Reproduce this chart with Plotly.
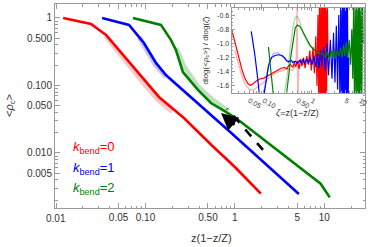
import math
import plotly.graph_objects as go

# ---------------- main panel data: <rho_c> vs z(1-z/Z) ----------------
red_x = [0.012, 0.0246, 0.0362, 0.0506, 0.0724, 0.101, 0.1415, 0.269, 0.55, 1.0, 1.95]
red_y = [1.0, 0.815, 0.56, 0.336, 0.188, 0.113, 0.0676, 0.033, 0.013, 0.0062, 0.0025]

blue_x = [0.0327, 0.0655, 0.096, 0.131, 0.169, 0.249, 0.348, 0.836, 5.19]
blue_y = [1.0, 0.79, 0.426, 0.216, 0.143, 0.091, 0.061, 0.0219, 0.00247]

green_x = [0.0724, 0.149, 0.193, 0.219, 0.262, 0.386, 0.54, 0.836, 1.17, 5.06, 9.1, 11.5]
green_y = [1.0, 0.79, 0.47, 0.336, 0.158, 0.086, 0.055, 0.039, 0.0288, 0.0065, 0.0035, 0.0022]

# faint companion curves (main panel)
red_f_x = [0.036, 0.05, 0.072, 0.1, 0.14, 0.2]
red_f_y = [0.54, 0.31, 0.17, 0.1, 0.06, 0.041]
blue_f_x = [0.085, 0.1, 0.13, 0.17]
blue_f_y = [0.52, 0.37, 0.2, 0.135]
green_f_x = [0.22, 0.27, 0.386, 0.54, 0.836]
green_f_y = [0.36, 0.19, 0.096, 0.064, 0.042]

# ---------------- inset data: dlog<rho_c>/dlog(zeta) ----------------
ri_x = [0.0215, 0.025, 0.03, 0.035, 0.04, 0.047, 0.053, 0.06, 0.07, 0.085, 0.1, 0.12, 0.15, 0.19,
        0.23, 0.27, 0.3, 0.33, 0.36, 0.4, 0.43, 0.46, 0.5, 0.54, 0.58, 0.62, 0.67, 0.72, 0.78,
        0.84, 0.9, 0.97, 1.05, 1.12, 1.2, 1.27, 1.33, 1.38, 1.43, 1.48, 1.53, 1.58, 1.63, 1.68,
        1.73, 1.78, 1.84, 1.9, 1.95, 2.0, 2.08, 2.15]
ri_y = [-0.80, -0.98, -1.18, -1.36, -1.48, -1.57, -1.59, -1.57, -1.53, -1.50, -1.49, -1.46, -1.42,
        -1.38, -1.35, -1.34, -1.36, -1.31, -1.30, -1.34, -1.27, -1.33, -1.25, -1.36, -1.22, -1.32,
        -1.20, -1.35, -1.18, -1.30, -1.10, -1.38, -1.05, -1.42, -0.90, -1.60, -0.60, -1.80, -0.40,
        -1.90, -0.40, -1.90, -0.40, -1.90, -0.40, -1.90, -0.40, -1.90, -0.40, -1.90, -0.40, -1.20]

bi_x = [0.055, 0.065, 0.075, 0.085, 0.095, 0.11, 0.125, 0.145, 0.17, 0.2, 0.24, 0.27, 0.3, 0.33,
        0.37, 0.4, 0.45, 0.5, 0.55, 0.6, 0.65, 0.7, 0.77, 0.85, 0.92, 1.0, 1.1, 1.2, 1.3, 1.4, 1.5,
        1.6, 1.75, 1.9, 2.05, 2.2, 2.4, 2.6, 2.8, 3.0, 3.2, 3.4, 3.6, 3.8, 3.95, 4.1, 4.25, 4.4,
        4.55, 4.7, 4.85, 5.0, 5.15, 5.3, 5.45, 5.6, 5.8]
bi_y = [-0.83, -1.15, -1.5, -1.85, -1.85, -1.55, -1.32, -1.2, -1.17, -1.16, -1.17, -1.2, -1.25,
        -1.26, -1.24, -1.27, -1.25, -1.28, -1.24, -1.27, -1.22, -1.29, -1.22, -1.28, -1.2, -1.3,
        -1.18, -1.33, -1.15, -1.35, -1.1, -1.32, -1.05, -1.38, -1.0, -1.45, -0.95, -1.5, -0.85,
        -1.55, -0.75, -1.65, -0.6, -1.8, -0.4, -1.9, -0.4, -1.9, -0.4, -1.9, -0.4, -1.9, -0.4,
        -1.9, -0.4, -1.9, -1.2]

gi_x = [0.125, 0.14, 0.155, 0.165, 0.28, 0.3, 0.33, 0.37, 0.41, 0.45, 0.5, 0.56, 0.62, 0.7, 0.8,
        0.9, 1.0, 1.15, 1.3, 1.5, 1.7, 1.9, 2.1, 2.3, 2.5, 2.7, 2.9, 3.1, 3.3, 3.6, 3.9, 4.2, 4.5,
        4.8, 5.1, 5.5, 5.9, 6.3, 6.7, 7.0, 7.3, 7.6, 7.9, 8.2, 8.5, 8.8, 9.1, 9.4, 9.7, 10.0,
        10.4, 10.8, 11.2, 11.5]
gi_y = [-1.05, -1.35, -1.65, -1.85, -1.85, -1.7, -1.45, -1.15, -0.92, -0.78, -0.74, -0.76, -0.81,
        -0.88, -0.96, -1.02, -1.06, -1.1, -1.12, -1.15, -1.14, -1.2, -1.12, -1.22, -1.1, -1.2,
        -1.08, -1.22, -1.1, -1.18, -1.06, -1.2, -1.02, -1.18, -0.98, -1.2, -0.95, -1.3, -0.8,
        -1.5, -0.5, -1.8, -0.4, -1.9, -0.4, -1.9, -0.4, -1.9, -0.4, -1.9, -0.4, -1.9, -0.4, -1.0]

# faint companion curves (inset)
pi_x = [0.025, 0.03, 0.035, 0.04, 0.05, 0.06, 0.08, 0.1, 0.15, 0.2, 0.3, 0.4, 0.47, 0.49, 0.51,
        0.53, 0.6, 0.8, 1.0]
pi_y = [-1.1, -1.3, -1.45, -1.56, -1.65, -1.66, -1.6, -1.55, -1.45, -1.4, -1.36, -1.38, -1.3,
        -0.5, -1.9, -1.35, -1.3, -1.28, -1.3]
lbi_x = [0.1, 0.115, 0.13, 0.16, 0.2, 0.25, 0.3, 0.4, 0.5]
lbi_y = [-1.7, -1.45, -1.25, -1.14, -1.13, -1.2, -1.24, -1.25, -1.27]
lgi_x = [0.26, 0.3, 0.35, 0.4, 0.45, 0.5, 0.55, 0.65, 0.8, 1.0, 1.3]
lgi_y = [-1.75, -1.5, -1.1, -0.78, -0.63, -0.62, -0.68, -0.84, -0.98, -1.07, -1.12]

# ticks
main_xticks = [0.01, 0.05, 0.1, 0.5, 1, 5, 10]
main_xticklabels = ["0.01", "0.05", "0.10", "0.50", "1", "5", "10"]
main_yticks = [0.005, 0.01, 0.05, 0.1, 0.5, 1]
main_yticklabels = ["0.005", "0.010", "0.050", "0.100", "0.500", "1"]
inset_xticks = [0.05, 0.1, 0.5, 1, 5, 10]
inset_xticklabels = ["0.05", "0.10", "0.50", "1", "5", "10"]
inset_yticks = [-0.6, -0.8, -1.0, -1.2, -1.4, -1.6]
inset_yticklabels = ["-0.6", "-0.8", "-1.0", "-1.2", "-1.4", "-1.6"]

legend_labels = ["<i>k</i><sub>bend</sub>=0", "<i>k</i><sub>bend</sub>=1", "<i>k</i><sub>bend</sub>=2"]

ARROW_TAIL = (2.06, 0.0111)
ARROW_NECK = (0.82, 0.0455)
ARROW_HEAD = (0.70, 0.039)

RED, BLUE, GREEN = "#ff0000", "#0000ff", "#008000"
RED_F, BLUE_F, GREEN_F = "rgba(255,0,0,0.22)", "rgba(0,0,255,0.22)", "rgba(0,128,0,0.25)"

FONT = "Liberation Sans, Arial, sans-serif"
TXT = "#333333"
FRAME = "#9a9a9a"


def minor_log(lo_exp, hi_exp):
    vals = []
    for e in range(lo_exp, hi_exp + 1):
        for m in (2, 3, 4, 6, 7, 8, 9):
            vals.append(m * 10 ** e)
    return vals


fig = go.Figure()

for xs, ys, c in [(red_f_x, red_f_y, RED_F), (blue_f_x, blue_f_y, BLUE_F), (green_f_x, green_f_y, GREEN_F)]:
    fig.add_trace(go.Scatter(x=xs, y=ys, mode="lines", line=dict(color=c, width=5),
                             xaxis="x", yaxis="y", showlegend=False, hoverinfo="skip"))
for xs, ys, c in [(red_x, red_y, RED), (blue_x, blue_y, BLUE), (green_x, green_y, GREEN)]:
    fig.add_trace(go.Scatter(x=xs, y=ys, mode="lines", line=dict(color=c, width=2.6),
                             xaxis="x", yaxis="y", showlegend=False))

fig.add_trace(go.Scatter(x=[ARROW_TAIL[0], ARROW_NECK[0]], y=[ARROW_TAIL[1], ARROW_NECK[1]],
                         mode="lines", line=dict(color="black", width=2.6, dash="dash"),
                         xaxis="x", yaxis="y", showlegend=False, hoverinfo="skip"))

for xs, ys, c in [(pi_x, pi_y, "rgba(255,0,0,0.3)"), (lbi_x, lbi_y, "rgba(0,0,255,0.3)"),
                  (lgi_x, lgi_y, "rgba(0,128,0,0.3)")]:
    fig.add_trace(go.Scatter(x=xs, y=ys, mode="lines", line=dict(color=c, width=1.4),
                             xaxis="x2", yaxis="y2", showlegend=False, hoverinfo="skip"))
for xs, ys, c in [(ri_x, ri_y, RED), (bi_x, bi_y, BLUE), (gi_x, gi_y, GREEN)]:
    fig.add_trace(go.Scatter(x=xs, y=ys, mode="lines", line=dict(color=c, width=1.2),
                             xaxis="x2", yaxis="y2", showlegend=False))

common = dict(showline=True, linecolor=FRAME, linewidth=1, mirror="allticks", ticks="inside",
              tickcolor=FRAME, showgrid=False, zeroline=False, automargin=False,
              ticklabeloverflow="allow",
              tickfont=dict(family=FONT, size=10, color=TXT))
small = dict(common, tickfont=dict(family=FONT, size=7, color=TXT))

# the first x label is drawn as an annotation pinned to the plot's left edge
axis_xticklabels = [""] + main_xticklabels[1:]

fig.update_layout(
    width=374, height=247,
    margin=dict(l=55, r=9, t=4, b=39, autoexpand=False),
    paper_bgcolor="white", plot_bgcolor="white",
    xaxis=dict(type="log", range=[-2.012, 1.455], tickvals=main_xticks, ticktext=axis_xticklabels,
               ticklen=5, tickmode="array",
               minor=dict(tickvals=minor_log(-2, 1), ticks="inside", ticklen=2.5, tickcolor=FRAME),
               **common),
    yaxis=dict(type="log", range=[-2.815, 0.207], tickvals=main_yticks, ticktext=main_yticklabels,
               ticklen=5, tickmode="array",
               minor=dict(tickvals=minor_log(-3, 0), ticks="inside", ticklen=2.5, tickcolor=FRAME),
               **common),
    xaxis2=dict(type="log", range=[math.log10(0.0215), math.log10(12)], domain=[0.5696, 0.9968],
                anchor="y2", tickvals=inset_xticks, ticktext=inset_xticklabels, ticklen=3,
                tickmode="array",
                minor=dict(tickvals=minor_log(-2, 1), ticks="inside", ticklen=1.8, tickcolor=FRAME),
                **small),
    yaxis2=dict(range=[-1.7, -0.5], domain=[0.5637, 0.9804], anchor="x2",
                tickvals=inset_yticks, ticktext=inset_yticklabels, ticklen=3, tickmode="array",
                minor=dict(dtick=0.05, ticks="inside", ticklen=1.8, tickcolor=FRAME),
                **small),
)

ann = []
ann.append(dict(xref="paper", yref="paper", x=0.003, y=0, yshift=-3,
                text=main_xticklabels[0], showarrow=False, xanchor="center", yanchor="top",
                font=dict(family=FONT, size=10, color=TXT)))
ann.append(dict(xref="x", yref="y", x=math.log10(ARROW_HEAD[0]), y=math.log10(ARROW_HEAD[1]),
                ax=15, ay=13, axref="pixel", ayref="pixel", showarrow=True, text="",
                arrowhead=2, arrowsize=1.4, arrowwidth=2.4, arrowcolor="black", standoff=0))
ann.append(dict(xref="paper", yref="paper", x=-0.145, y=0.5, text="&lt;<i>ρ</i><sub>c</sub>&gt;",
                textangle=-90, showarrow=False, font=dict(family=FONT, size=11, color=TXT),
                xanchor="center", yanchor="middle"))
ann.append(dict(xref="paper", yref="paper", x=0.506, y=-0.147, text="z(1−z/Z)",
                showarrow=False, font=dict(family=FONT, size=11, color=TXT),
                xanchor="center", yanchor="middle"))
ann.append(dict(xref="paper", yref="paper", x=0.484, y=0.772,
                text="dlog(&lt;<i>ρ</i><sub>c</sub>&gt;) / dlog(<i>ζ</i>)",
                textangle=-90, showarrow=False, font=dict(family=FONT, size=8, color=TXT),
                xanchor="center", yanchor="middle"))
ann.append(dict(xref="paper", yref="paper", x=0.781, y=0.466, text="<i>ζ</i>=z(1−z/Z)",
                showarrow=False, font=dict(family=FONT, size=9, color=TXT),
                xanchor="center", yanchor="middle"))
for lbl, c, yp in zip(legend_labels, [RED, BLUE, GREEN], [0.299, 0.196, 0.098]):
    ann.append(dict(xref="paper", yref="paper", x=0.052, y=yp, text=lbl, showarrow=False,
                    font=dict(family=FONT, size=13, color=c), xanchor="left", yanchor="middle"))
fig.update_layout(annotations=ann)

fig.write_html("out.html", config={"displayModeBar": False},
               post_script="document.body.style.margin='0';document.body.style.padding='0';")
